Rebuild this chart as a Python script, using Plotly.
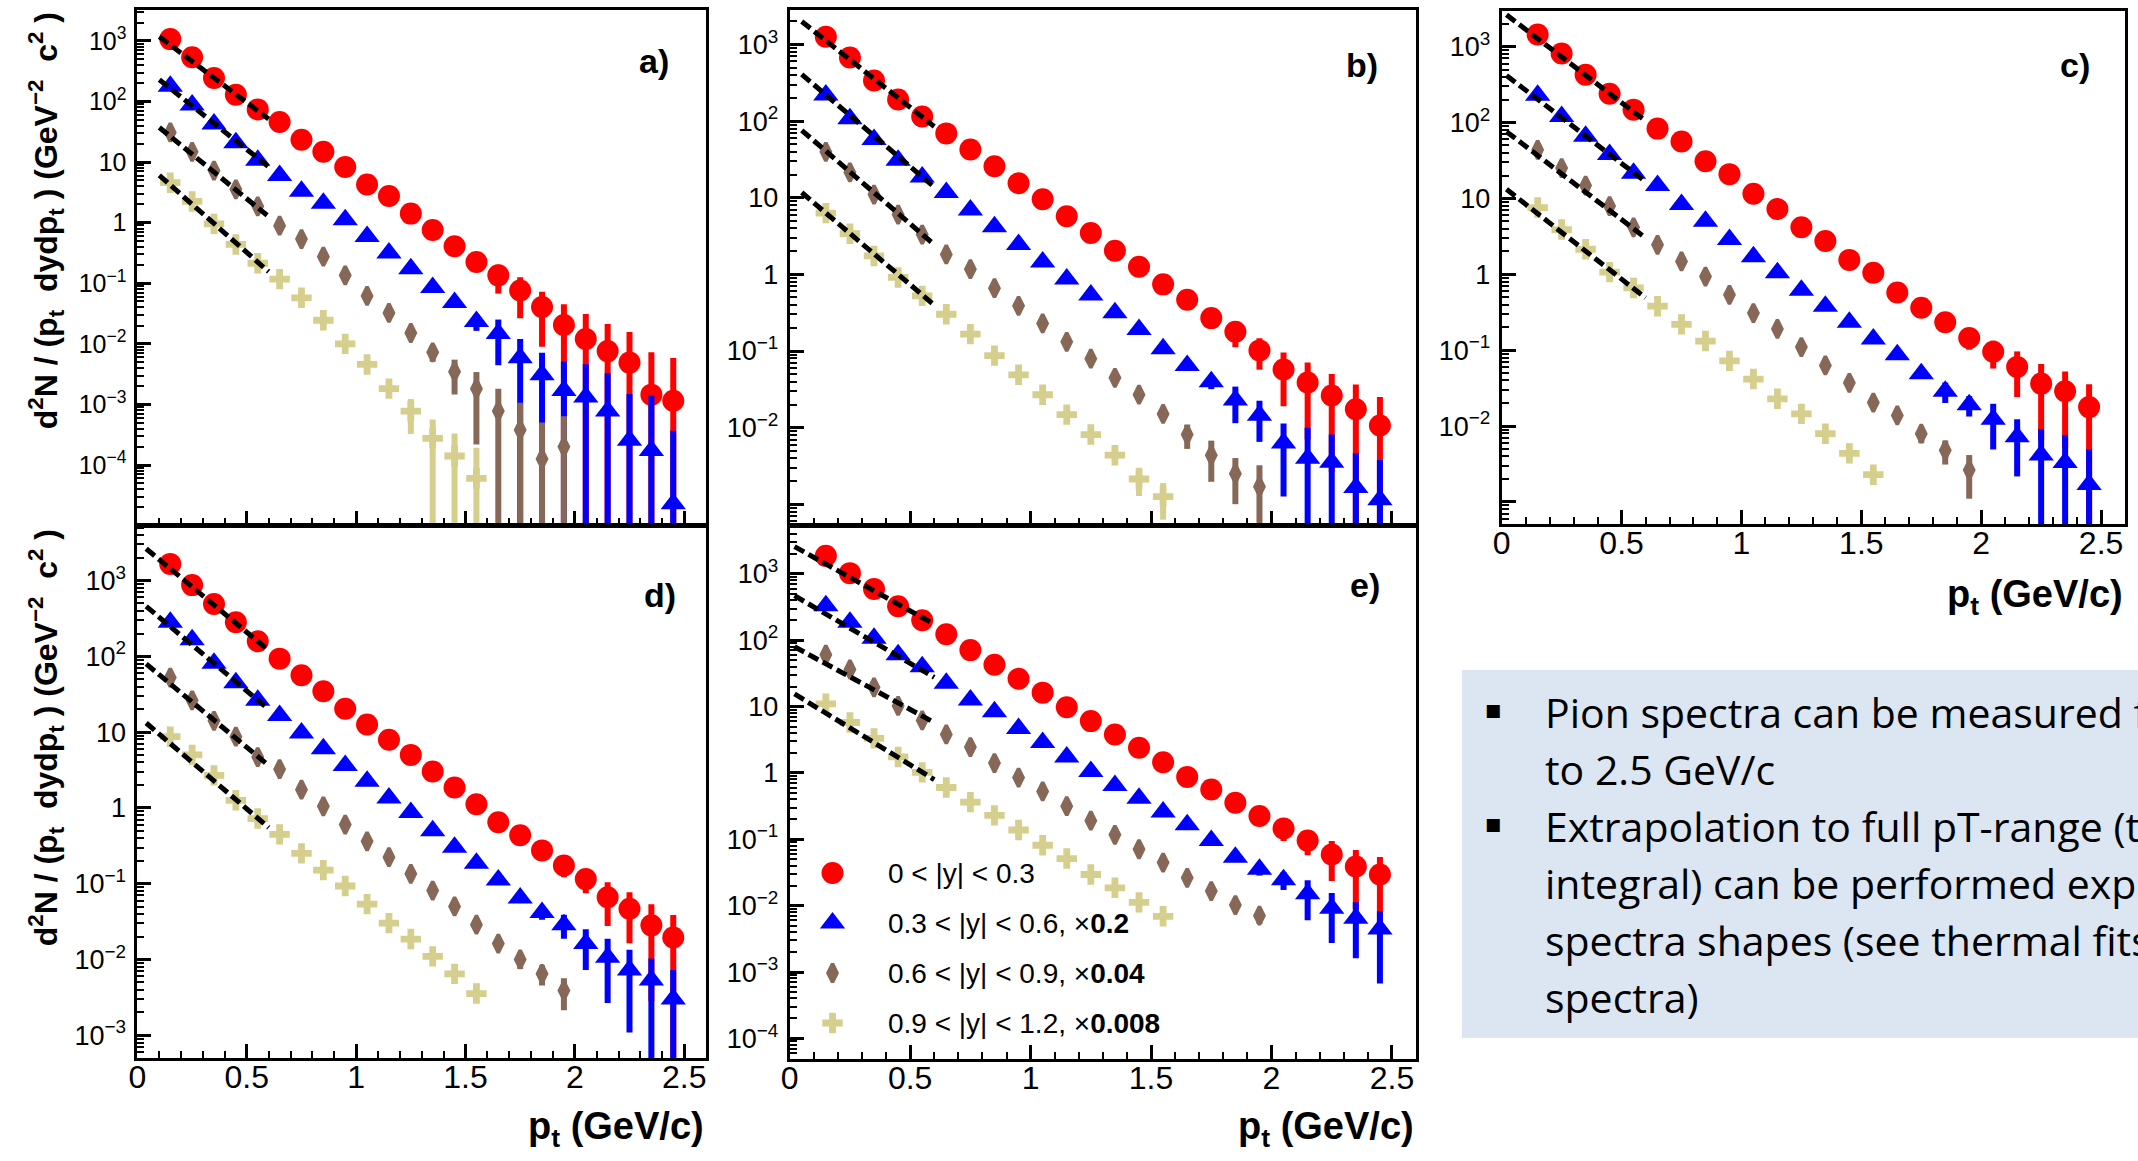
import math
import plotly.graph_objects as go

W, H = 2138, 1161

# transverse-momentum bin centres (GeV/c)
PT = [0.15, 0.25, 0.35, 0.45, 0.55, 0.65, 0.75, 0.85, 0.95, 1.05, 1.15, 1.25,
      1.35, 1.45, 1.55, 1.65, 1.75, 1.85, 1.95, 2.05, 2.15, 2.25, 2.35, 2.45]

LEGEND_LABELS = ["0 < |y| < 0.3",
                 "0.3 < |y| < 0.6, \u00d7<b>0.2</b>",
                 "0.6 < |y| < 0.9, \u00d7<b>0.04</b>",
                 "0.9 < |y| < 1.2, \u00d7<b>0.008</b>"]

PANEL_TAGS = ["a)", "b)", "c)", "d)", "e)"]

# ---- panel a : spectra (value) and relative uncertainty per bin ----
A_RED = [1070, 537, 245, 129, 74.1, 45.7, 23.4, 14.8, 8.32, 4.27, 2.75, 1.41,
         0.759, 0.407, 0.224, 0.135, 0.0759, 0.0407, 0.0204, 0.0120, 0.00759, 0.00490, 0.00145, 0.00115]
A_RED_ERR = [0, 0, 0, 0, 0, 0, 0, 0, 0, 0, 0, 0,
             0, 0, 0.25, 0.5, 0.65, 0.78, 1.2, 1.6, 1.8, 2.2, 4.0, 4.1]
A_BLUE = [178, 87.1, 42.7, 20.9, 10.7, 6.03, 3.31, 2.09, 1.12, 0.589, 0.316, 0.174,
          0.0851, 0.0479, 0.0234, 0.0148, 0.00589, 0.00309, 0.00170, 0.00132, 0.000776, 0.000257, 0.000174, 0.0000229]
A_BLUE_ERR = [0, 0, 0, 0, 0, 0, 0, 0, 0, 0, 0, 0,
              0, 0.15, 0.3, 0.7, 1.05, 1.3, 2.0, 2.5, 3.2, 4.8, 7.0, 15.0]
A_BROWN = [30.9, 14.8, 7.24, 3.55, 1.86, 0.891, 0.537, 0.275, 0.135, 0.0617, 0.0324, 0.0151,
           0.00724, 0.00347, 0.00182, 0.000776, 0.000380, 0.000126, 0.000200]
A_BROWN_ERR = [0, 0, 0, 0, 0, 0, 0, 0, 0, 0, 0, 0.15,
               0.3, 0.58, 0.88, 1.34, 1.8, 3.0, 2.2]
A_YELLOW = [4.57, 2.24, 0.955, 0.437, 0.214, 0.117, 0.0575, 0.0245, 0.0100, 0.00457, 0.00182, 0.000776,
            0.000275, 0.000141, 0.0000603]
A_YELLOW_ERR = [0, 0, 0, 0, 0, 0, 0, 0, 0, 0, 0.2, 0.58, 1.05, 1.34, 2.2]

# ---- panel b ----
B_RED = [1260, 676, 339, 191, 115, 69.2, 42.7, 25.7, 15.5, 9.55, 5.75, 3.47,
         2.04, 1.26, 0.741, 0.468, 0.269, 0.178, 0.102, 0.0575, 0.0389, 0.0263, 0.0174, 0.0107]
B_RED_ERR = [0, 0, 0, 0, 0, 0, 0, 0, 0, 0, 0, 0,
             0, 0, 0, 0, 0.15, 0.37, 0.44, 0.67, 0.82, 0.9, 1.1, 1.35]
B_BLUE = [219, 107, 57.5, 30.9, 18.6, 11.7, 6.92, 4.17, 2.45, 1.45, 0.871, 0.537,
          0.316, 0.191, 0.107, 0.0646, 0.0398, 0.0229, 0.0145, 0.00631, 0.00398, 0.00355, 0.00166, 0.00115]
B_BLUE_ERR = [0, 0, 0, 0, 0, 0, 0, 0, 0, 0, 0, 0,
              0, 0, 0, 0, 0.2, 0.5, 0.55, 0.8, 1.5, 1.3, 1.8, 2.3]
B_BROWN = [39.8, 21.4, 11.0, 6.03, 3.31, 1.82, 1.17, 0.661, 0.389, 0.229, 0.132, 0.0794,
           0.0447, 0.0269, 0.0151, 0.00813, 0.00437, 0.00251, 0.00170]
B_BROWN_ERR = [0, 0, 0, 0, 0, 0, 0, 0, 0, 0, 0, 0,
               0, 0, 0.1, 0.35, 0.55, 0.6, 0.9]
B_YELLOW = [6.31, 3.39, 1.74, 0.912, 0.525, 0.302, 0.166, 0.0871, 0.0490, 0.0269, 0.0148, 0.00813,
            0.00437, 0.00214, 0.00126]
B_YELLOW_ERR = [0, 0, 0, 0, 0, 0, 0, 0, 0, 0, 0, 0, 0, 0.4, 0.5]

# ---- panel c ----
C_RED = [1445, 813, 427, 240, 148, 83.2, 56.2, 30.9, 20.9, 11.5, 7.24, 4.17,
         2.75, 1.55, 1.05, 0.575, 0.363, 0.234, 0.145, 0.0955, 0.0603, 0.0363, 0.0288, 0.0178]
C_RED_ERR = [0, 0, 0, 0, 0, 0, 0, 0, 0, 0, 0, 0,
             0, 0, 0, 0, 0, 0.2, 0.3, 0.4, 0.6, 0.82, 0.82, 1.0]
C_BLUE = [229, 120, 66.1, 38.0, 21.4, 14.8, 8.32, 5.01, 2.88, 1.70, 1.05, 0.617,
          0.380, 0.234, 0.141, 0.0871, 0.0490, 0.0288, 0.0191, 0.0123, 0.00724, 0.00417, 0.00331, 0.00170]
C_BLUE_ERR = [0, 0, 0, 0, 0, 0, 0, 0, 0, 0, 0, 0,
              0, 0, 0, 0, 0, 0.3, 0.3, 0.6, 0.7, 1.2, 1.3, 1.9]
C_BROWN = [43.7, 25.1, 14.8, 7.94, 4.17, 2.45, 1.48, 0.933, 0.537, 0.309, 0.191, 0.110,
           0.0631, 0.0372, 0.0204, 0.0138, 0.00794, 0.00479, 0.00263]
C_BROWN_ERR = [0, 0, 0, 0, 0, 0, 0, 0, 0, 0, 0, 0,
               0, 0, 0, 0, 0.25, 0.35, 0.58]
C_YELLOW = [7.59, 3.89, 2.14, 1.07, 0.661, 0.380, 0.219, 0.132, 0.0724, 0.0417, 0.0229, 0.0145,
            0.00794, 0.00437, 0.00229]
C_YELLOW_ERR = [0, 0, 0, 0, 0, 0, 0, 0, 0, 0, 0, 0, 0, 0, 0]

# ---- panel d ----
D_RED = [1660, 871, 490, 282, 158, 93.3, 56.2, 34.7, 20.4, 12.6, 7.94, 5.01,
         3.02, 1.86, 1.12, 0.646, 0.437, 0.275, 0.174, 0.115, 0.0661, 0.0468, 0.0282, 0.0195]
D_RED_ERR = [0, 0, 0, 0, 0, 0, 0, 0, 0, 0, 0, 0,
             0, 0, 0, 0, 0, 0, 0.3, 0.35, 0.58, 0.65, 0.9, 0.98]
D_BLUE = [282, 166, 81.3, 44.7, 26.3, 16.6, 9.77, 6.03, 3.63, 2.24, 1.35, 0.871,
          0.501, 0.302, 0.186, 0.112, 0.0646, 0.0417, 0.0288, 0.0162, 0.0107, 0.00724, 0.00537, 0.00302]
D_BLUE_ERR = [0, 0, 0, 0, 0, 0, 0, 0, 0, 0, 0, 0,
              0, 0, 0, 0, 0, 0.2, 0.35, 0.55, 0.75, 0.85, 0.92, 1.4]
D_BROWN = [52.5, 26.3, 14.1, 8.71, 4.68, 3.24, 1.74, 1.05, 0.603, 0.363, 0.224, 0.135,
           0.0813, 0.0501, 0.0288, 0.0162, 0.0100, 0.00646, 0.00389]
D_BROWN_ERR = [0, 0, 0, 0, 0, 0, 0, 0, 0, 0, 0, 0,
               0, 0, 0, 0, 0.25, 0.3, 0.45]
D_YELLOW = [8.71, 5.01, 2.69, 1.26, 0.724, 0.447, 0.251, 0.151, 0.0933, 0.0537, 0.0302, 0.0186,
            0.0110, 0.00646, 0.00355]
D_YELLOW_ERR = [0, 0, 0, 0, 0, 0, 0, 0, 0, 0, 0, 0, 0, 0, 0]

# ---- panel e ----
E_RED = [1862, 1023, 589, 324, 200, 123, 70.8, 42.7, 26.3, 16.2, 9.77, 6.03,
         3.80, 2.40, 1.45, 0.871, 0.562, 0.355, 0.224, 0.145, 0.0955, 0.0589, 0.0389, 0.0295]
E_RED_ERR = [0, 0, 0, 0, 0, 0, 0, 0, 0, 0, 0, 0,
             0, 0, 0, 0, 0, 0, 0, 0.35, 0.4, 0.6, 0.77, 0.84]
E_BLUE = [331, 186, 107, 60.3, 39.8, 22.4, 12.6, 8.32, 4.68, 2.88, 1.74, 1.05,
          0.646, 0.417, 0.257, 0.166, 0.0955, 0.0537, 0.0355, 0.0245, 0.0151, 0.00912, 0.00646, 0.00447]
E_BLUE_ERR = [0, 0, 0, 0, 0, 0, 0, 0, 0, 0, 0, 0,
              0, 0, 0, 0, 0, 0, 0.2, 0.3, 0.6, 0.7, 0.75, 0.85]
E_BROWN = [60.3, 36.3, 19.5, 10.2, 6.17, 3.80, 2.45, 1.41, 0.851, 0.525, 0.316, 0.191,
           0.117, 0.0708, 0.0447, 0.0263, 0.0166, 0.0102, 0.00708]
E_BROWN_ERR = [0, 0, 0, 0, 0, 0, 0, 0, 0, 0, 0, 0,
               0, 0, 0, 0, 0, 0, 0.25]
E_YELLOW = [11.0, 5.75, 3.31, 1.74, 1.02, 0.603, 0.363, 0.229, 0.138, 0.0813, 0.0513, 0.0295,
            0.0186, 0.0112, 0.00692]
E_YELLOW_ERR = [0, 0, 0, 0, 0, 0, 0, 0, 0, 0, 0, 0, 0, 0, 0]

# ---- low-pt fit lines: range in pt and fitted value at each end (red, blue, brown, yellow) ----
FIT_PT_END = 0.6
A_FIT_PT0, A_FIT_LO, A_FIT_HI = 0.10, [1175, 229, 37.2, 6.03], [51.3, 8.32, 1.26, 0.155]
B_FIT_PT0, B_FIT_LO, B_FIT_HI = 0.05, [1995, 407, 75.9, 11.7], [85.1, 13.8, 2.45, 0.398]
C_FIT_PT0, C_FIT_LO, C_FIT_HI = 0.02, [2630, 417, 75.9, 13.2], [105, 16.6, 3.02, 0.490]
D_FIT_PT0, D_FIT_LO, D_FIT_HI = 0.04, [2630, 457, 79.4, 13.2], [120, 20.0, 3.63, 0.550]
E_FIT_PT0, E_FIT_LO, E_FIT_HI = 0.02, [2570, 468, 79.4, 15.5], [174, 27.5, 5.75, 0.794]

TEXT_LINES = ["Pion spectra can be measured from",
              "to 2.5 GeV/c",
              "Extrapolation to full pT-range (the",
              "integral) can be performed exploiting",
              "spectra shapes (see thermal fits of",
              "spectra)"]
BULLET_LINES = [0, 2]

# ------------------------------------------------------------------ styling
STYLES = [
    dict(color="#ff0000", symbol="circle", size=22, lw=0),
    dict(color="#0000ff", symbol="triangle-up", size=22, lw=0),
    dict(color="#876858", symbol="diamond-tall", size=13, lw=3.5),
    dict(color="#d5ce8c", symbol="cross", size=17, lw=0),
]
ROOT_FONT = "Liberation Sans, Arial, sans-serif"
NB = "\u00a0"


def fx(px):
    return px / W


def fy(py):
    return 1 - py / H


def tick_text(k):
    if k == 0:
        return "1"
    if k == 1:
        return "10"
    return "10<sup>" + ("\u2212" if k < 0 else "") + str(abs(k)) + "</sup>"


PANELS = [
    dict(series=[(A_RED, A_RED_ERR), (A_BLUE, A_BLUE_ERR), (A_BROWN, A_BROWN_ERR), (A_YELLOW, A_YELLOW_ERR)],
         fit=(A_FIT_PT0, A_FIT_LO, A_FIT_HI), xpx=(129, 700), ypx=(10, 525), yr=(-4.99, 3.51),
         labeled=range(-4, 4), xlabels=False, tag=(648, 61), tick=25),
    dict(series=[(B_RED, B_RED_ERR), (B_BLUE, B_BLUE_ERR), (B_BROWN, B_BROWN_ERR), (B_YELLOW, B_YELLOW_ERR)],
         fit=(B_FIT_PT0, B_FIT_LO, B_FIT_HI), xpx=(784, 1413), ypx=(10, 525), yr=(-3.27, 3.45),
         labeled=range(-2, 4), xlabels=False, tag=(1359, 65), tick=27),
    dict(series=[(C_RED, C_RED_ERR), (C_BLUE, C_BLUE_ERR), (C_BROWN, C_BROWN_ERR), (C_YELLOW, C_YELLOW_ERR)],
         fit=(C_FIT_PT0, C_FIT_LO, C_FIT_HI), xpx=(1499, 2125), ypx=(11, 524), yr=(-3.29, 3.47),
         labeled=range(-2, 4), xlabels=True, tag=(2075, 65), tick=27),
    dict(series=[(D_RED, D_RED_ERR), (D_BLUE, D_BLUE_ERR), (D_BROWN, D_BROWN_ERR), (D_YELLOW, D_YELLOW_ERR)],
         fit=(D_FIT_PT0, D_FIT_LO, D_FIT_HI), xpx=(129, 700), ypx=(526, 1058), yr=(-3.30, 3.72),
         labeled=range(-3, 4), xlabels=True, tag=(654, 595), tick=27),
    dict(series=[(E_RED, E_RED_ERR), (E_BLUE, E_BLUE_ERR), (E_BROWN, E_BROWN_ERR), (E_YELLOW, E_YELLOW_ERR)],
         fit=(E_FIT_PT0, E_FIT_LO, E_FIT_HI), xpx=(784, 1413), ypx=(526, 1059), yr=(-4.31, 3.72),
         labeled=range(-4, 4), xlabels=True, tag=(1362, 585), tick=27),
]

fig = go.Figure()
layout = dict(
    width=W, height=H, autosize=False,
    margin=dict(l=0, r=0, t=0, b=0, pad=0),
    paper_bgcolor="white", plot_bgcolor="rgba(0,0,0,0)",
    showlegend=False, font=dict(family=ROOT_FONT, color="black"),
    annotations=[], shapes=[],
)

for i, p in enumerate(PANELS):
    n = "" if i == 0 else str(i + 1)
    xref, yref = "x" + n, "y" + n

    for (vals, rel), st in zip(p["series"], STYLES):
        err = [v * r for v, r in zip(vals, rel)]
        fig.add_trace(go.Scatter(
            x=PT[:len(vals)], y=vals, mode="markers", xaxis=xref, yaxis=yref,
            marker=dict(color=st["color"], symbol=st["symbol"], size=st["size"],
                        line=dict(width=st["lw"], color=st["color"])),
            error_y=dict(type="data", symmetric=False, array=err, arrayminus=err,
                         color=st["color"], thickness=6, width=0),
        ))

    pt0, lo, hi = p["fit"]
    for a, b in zip(lo, hi):
        fig.add_trace(go.Scatter(
            x=[pt0, FIT_PT_END], y=[a, b], mode="lines", xaxis=xref, yaxis=yref,
            line=dict(color="black", width=5, dash="11px,5px"),
        ))

    y0, y1 = p["yr"]
    major = [k for k in range(math.floor(y0), math.ceil(y1) + 1) if y0 <= k <= y1]
    minor = []
    for k in range(math.floor(y0), math.ceil(y1) + 1):
        for m in range(2, 10):
            lv = math.log10(m * 10 ** k)
            if y0 <= lv <= y1:
                minor.append(m * 10 ** k)

    layout["xaxis" + n] = dict(
        domain=[fx(p["xpx"][0]), fx(p["xpx"][1])], anchor=yref, range=[0, 2.6],
        tickmode="linear", tick0=0, dtick=0.5, ticks="inside", ticklen=14, tickwidth=2.5,
        tickcolor="black", showline=True, linewidth=3, linecolor="black", mirror=True,
        showgrid=False, zeroline=False, showticklabels=p["xlabels"], ticklabelstandoff=-11,
        tickfont=dict(family=ROOT_FONT, size=32, color="black"),
        minor=dict(dtick=0.1, ticks="inside", ticklen=7, tickwidth=2, tickcolor="black", showgrid=False),
    )
    layout["yaxis" + n] = dict(
        domain=[fy(p["ypx"][1]), fy(p["ypx"][0])], anchor=xref, type="log", range=[y0, y1],
        tickmode="array", tickvals=[10 ** k for k in major],
        ticktext=[tick_text(k) if k in p["labeled"] else "" for k in major],
        ticks="inside", ticklen=14, tickwidth=2.5, tickcolor="black",
        showline=True, linewidth=3, linecolor="black", mirror=True,
        showgrid=False, zeroline=False, ticklabelstandoff=3,
        tickfont=dict(family=ROOT_FONT, size=p["tick"], color="black"),
        minor=dict(tickmode="array", tickvals=minor, ticks="inside", ticklen=7, tickwidth=2,
                   tickcolor="black", showgrid=False),
    )

    layout["annotations"].append(dict(
        text="<b>" + PANEL_TAGS[i] + "</b>", xref="paper", yref="paper",
        x=fx(p["tag"][0]), y=fy(p["tag"][1]), xanchor="center", yanchor="middle",
        showarrow=False, font=dict(family=ROOT_FONT, size=34, color="black"),
    ))

# axis titles
YTITLE = ("<b>d<sup>2</sup>N / (p<sub>t</sub>" + NB + " dydp<sub>t</sub>" + NB + ") (GeV<sup>\u22122</sup>"
          + NB + " c<sup>2</sup>" + NB + ")</b>")
for top in (10, 527):
    layout["annotations"].append(dict(
        text=YTITLE, xref="paper", yref="paper", x=fx(37), y=fy(top),
        xanchor="center", yanchor="top", textangle=-90, showarrow=False,
        font=dict(family=ROOT_FONT, size=32, color="black"),
    ))
XTITLE = "<b>p<sub>t</sub> (GeV/c)</b>"
for right, cy in ((2125, 597), (700, 1129), (1413, 1129)):
    layout["annotations"].append(dict(
        text=XTITLE, xref="paper", yref="paper", x=fx(right), y=fy(cy),
        xanchor="right", yanchor="middle", showarrow=False,
        font=dict(family=ROOT_FONT, size=38, color="black"),
    ))

# legend drawn inside panel e, on a pixel-space helper axis
LEG_X, LEG_TEXT_X, LEG_Y0, LEG_DY = 827, 881, 873, 50
layout["xaxis6"] = dict(domain=[0, 1], range=[0, W], visible=False, fixedrange=True, anchor="y6")
layout["yaxis6"] = dict(domain=[0, 1], range=[H, 0], visible=False, fixedrange=True, anchor="x6")
for j, (st, lab) in enumerate(zip(STYLES, LEGEND_LABELS)):
    ly = LEG_Y0 + j * LEG_DY
    fig.add_trace(go.Scatter(
        x=[LEG_X], y=[ly], mode="markers", xaxis="x6", yaxis="y6",
        marker=dict(color=st["color"], symbol=st["symbol"], size=st["size"],
                    line=dict(width=st["lw"], color=st["color"])),
    ))
    layout["annotations"].append(dict(
        text=lab, xref="paper", yref="paper", x=fx(LEG_TEXT_X), y=fy(ly),
        xanchor="left", yanchor="middle", showarrow=False,
        font=dict(family=ROOT_FONT, size=28, color="black"),
    ))

# summary text box
layout["shapes"].append(dict(
    type="rect", xref="paper", yref="paper", x0=fx(1459), x1=1.0, y0=fy(1038), y1=fy(670),
    fillcolor="#dce6f2", line=dict(width=0), layer="below",
))
TXT_X, TXT_Y0, TXT_DY = 1540, 712, 57
for j, line in enumerate(TEXT_LINES):
    cy = TXT_Y0 + j * TXT_DY
    layout["annotations"].append(dict(
        text=line, xref="paper", yref="paper", x=fx(TXT_X), y=fy(cy),
        xanchor="left", yanchor="middle", showarrow=False,
        font=dict(family="Open Sans", size=41, color="black"),
    ))
    if j in BULLET_LINES:
        layout["annotations"].append(dict(
            text="\u25a0", xref="paper", yref="paper", x=fx(1490), y=fy(cy - 2),
            xanchor="center", yanchor="middle", showarrow=False,
            font=dict(family="DejaVu Sans", size=17, color="black"),
        ))

fig.update_layout(**layout)
fig.write_html("out.html")
